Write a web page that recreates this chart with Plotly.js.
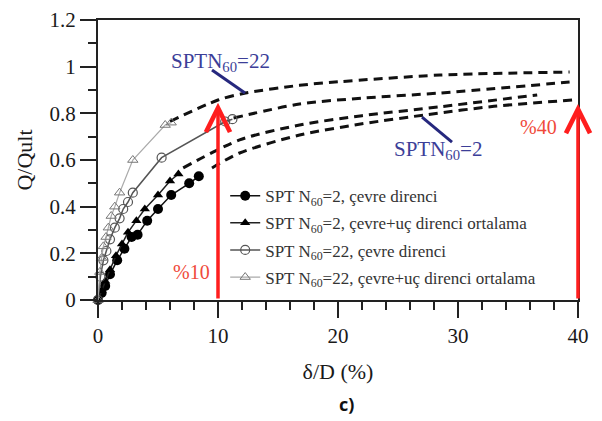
<!DOCTYPE html>
<html>
<head>
<meta charset="utf-8">
<script src="https://cdn.plot.ly/plotly-3.0.1.min.js"></script>
<style>html,body{margin:0;padding:0;background:#fff;}#chart{width:602px;height:421px;}</style>
</head>
<body>
<div id="chart"></div>
<script>
// Measured series (δ/D %, Q/Qult)
const n2CevreX = [0, 0.3, 0.6, 1.0, 1.6, 2.2, 2.8, 3.3, 4.1, 5.0, 6.1, 7.6, 8.4];
const n2CevreY = [0, 0.03, 0.06, 0.11, 0.17, 0.22, 0.27, 0.28, 0.34, 0.39, 0.45, 0.50, 0.53];
const n2OrtX = [0, 0.3, 0.6, 1.0, 1.5, 2.0, 2.5, 3.2, 3.9, 5.0, 6.0, 6.7];
const n2OrtY = [0, 0.04, 0.08, 0.13, 0.19, 0.24, 0.29, 0.34, 0.39, 0.45, 0.51, 0.54];
const n22CevreX = [0, 0.2, 0.45, 0.7, 1.0, 1.4, 1.8, 2.1, 2.5, 2.9, 5.3, 10.6, 11.2];
const n22CevreY = [0, 0.10, 0.17, 0.21, 0.26, 0.31, 0.35, 0.39, 0.42, 0.46, 0.61, 0.765, 0.775];
const n22OrtX = [0, 0.15, 0.3, 0.45, 0.67, 0.86, 1.1, 1.4, 1.8, 2.9, 5.6, 6.1];
const n22OrtY = [0, 0.12, 0.18, 0.23, 0.27, 0.31, 0.36, 0.40, 0.46, 0.60, 0.75, 0.76];

// Dashed extrapolation curves
const fit22OrtX = [6.0, 10.0, 12.3, 16.8, 20.0, 28.5, 39.3];
const fit22OrtY = [0.765, 0.857, 0.887, 0.92, 0.935, 0.964, 0.977];
const fit22CevreX = [11.3, 16.8, 22.0, 28.5, 39.3];
const fit22CevreY = [0.78, 0.84, 0.865, 0.887, 0.934];
const fit2OrtX = [7.1, 11.8, 16.8, 22.0, 28.5, 36.6];
const fit2OrtY = [0.566, 0.686, 0.75, 0.79, 0.828, 0.879];
const fit2CevreX = [9.5, 11.8, 16.8, 22.0, 27.5, 33.0, 39.6];
const fit2CevreY = [0.566, 0.63, 0.707, 0.755, 0.795, 0.83, 0.857];

// Legend labels
const names = [
  'SPT N<sub>60</sub>=2, çevre direnci',
  'SPT N<sub>60</sub>=2, çevre+uç direnci ortalama',
  'SPT N<sub>60</sub>=22, çevre direnci',
  'SPT N<sub>60</sub>=22, çevre+uç direnci ortalama'
];

// Annotation anchors
const arrowX = [10, 40];
const arrowTopY = [0.845, 0.84];
const arrowLabels = ['%10', '%40'];
const arrowLabelX = [7.8, 36.7];
const arrowLabelY = [0.12, 0.74];
const sptLabels = ['SPTN<sub>60</sub>=22', 'SPTN<sub>60</sub>=2'];
const sptLabelX = [10.2, 28.3];
const sptLabelY = [1.02, 0.643];
const sptLineFromX = [9.5, 27.0];
const sptLineFromY = [0.986, 0.784];
const sptLineToX = [12.25, 29.5];
const sptLineToY = [0.887, 0.677];

const serif = 'Liberation Serif, Times New Roman, serif';
const dashStyle = {color: '#111', width: 3, dash: '9px,6px', shape: 'spline', smoothing: 0.8};

const traces = [
  {x: fit22OrtX, y: fit22OrtY, mode: 'lines', line: dashStyle, showlegend: false, hoverinfo: 'skip'},
  {x: fit22CevreX, y: fit22CevreY, mode: 'lines', line: dashStyle, showlegend: false, hoverinfo: 'skip'},
  {x: fit2OrtX, y: fit2OrtY, mode: 'lines', line: dashStyle, showlegend: false, hoverinfo: 'skip'},
  {x: fit2CevreX, y: fit2CevreY, mode: 'lines', line: dashStyle, showlegend: false, hoverinfo: 'skip'}
];

// blue pointer lines
for (let i = 0; i < sptLabels.length; i++) {
  traces.push({x: [sptLineFromX[i], sptLineToX[i]], y: [sptLineFromY[i], sptLineToY[i]], mode: 'lines',
    line: {color: '#26287e', width: 3}, showlegend: false, hoverinfo: 'skip'});
}

traces.push(
  {x: n2CevreX, y: n2CevreY, name: names[0], mode: 'lines+markers', legendgroup: 'a',
   line: {color: '#111', width: 1.5}, marker: {symbol: 'circle', size: 10, color: '#000'}, cliponaxis: false},
  {x: n2OrtX, y: n2OrtY, name: names[1], mode: 'lines+markers', legendgroup: 'b',
   line: {color: '#222', width: 1.5}, marker: {symbol: 'triangle-up', size: 9, color: '#000'}, cliponaxis: false},
  {x: n22CevreX, y: n22CevreY, name: names[2], mode: 'lines+markers', legendgroup: 'c',
   line: {color: '#555', width: 1.5}, marker: {symbol: 'circle-open', size: 9, color: '#555', line: {width: 1.2}}, cliponaxis: false},
  {x: n22OrtX, y: n22OrtY, name: names[3], mode: 'lines+markers', legendgroup: 'd',
   line: {color: '#aaa', width: 1.2}, marker: {symbol: 'triangle-up-open', size: 9, color: '#777', line: {width: 1}}, cliponaxis: false}
);

const annotations = [];
for (let i = 0; i < arrowX.length; i++) {
  // red arrow: from the x axis up to the curve level (not clipped at the frame)
  annotations.push({x: arrowX[i], y: arrowTopY[i], ax: arrowX[i], ay: 0, xref: 'x', yref: 'y', axref: 'x', ayref: 'y',
    text: '', showarrow: true, arrowhead: 5, arrowsize: 1.35, arrowwidth: 3.5, arrowcolor: '#ff1e1e'});
  annotations.push({x: arrowLabelX[i], y: arrowLabelY[i], xref: 'x', yref: 'y', text: arrowLabels[i], showarrow: false,
    font: {family: serif, size: 20, color: '#f04a3a'}});
}
for (let i = 0; i < sptLabels.length; i++) {
  annotations.push({x: sptLabelX[i], y: sptLabelY[i], xref: 'x', yref: 'y', text: sptLabels[i], showarrow: false,
    font: {family: serif, size: 21, color: '#3c3e98'}});
}
annotations.push({x: 0.517, y: -0.37, xref: 'paper', yref: 'paper', yanchor: 'middle', text: '<b>c)</b>', showarrow: false,
  font: {family: 'Open Sans, sans-serif', size: 18, color: '#111'}});

const layout = {
  width: 602, height: 421,
  margin: {l: 98, r: 24, t: 20, b: 121},
  paper_bgcolor: '#fff', plot_bgcolor: '#fff',
  font: {family: serif, color: '#222', size: 20},
  showlegend: true,
  legend: {x: 0.265, y: 0.435, xanchor: 'left', yanchor: 'top', bgcolor: 'rgba(0,0,0,0)',
    font: {family: serif, size: 17, color: '#333'}, tracegroupgap: 2, traceorder: 'grouped'},
  xaxis: {range: [0, 40], dtick: 10, ticks: 'outside', ticklen: 16, tickwidth: 2, tickcolor: '#222',
    showline: true, linewidth: 2, linecolor: '#222', mirror: true, showgrid: false, zeroline: false,
    minor: {dtick: 2, ticks: 'outside', ticklen: 8, tickwidth: 2, tickcolor: '#222', showgrid: false},
    tickfont: {family: serif, size: 21, color: '#1a1a1a'},
    title: {text: 'δ/D (%)', font: {family: serif, size: 22, color: '#1a1a1a'}, standoff: 16}},
  yaxis: {range: [0, 1.2], dtick: 0.2, ticks: 'outside', ticklen: 16, tickwidth: 2, tickcolor: '#222',
    showline: true, linewidth: 2, linecolor: '#222', mirror: true, showgrid: false, zeroline: false,
    minor: {dtick: 0.1, ticks: 'outside', ticklen: 8, tickwidth: 2, tickcolor: '#222', showgrid: false},
    tickfont: {family: serif, size: 21, color: '#1a1a1a'},
    title: {text: 'Q/Qult', font: {family: serif, size: 22, color: '#1a1a1a'}, standoff: 11}},
  annotations: annotations
};

Plotly.newPlot('chart', traces, layout, {displayModeBar: false, staticPlot: true});
</script>
</body>
</html>
